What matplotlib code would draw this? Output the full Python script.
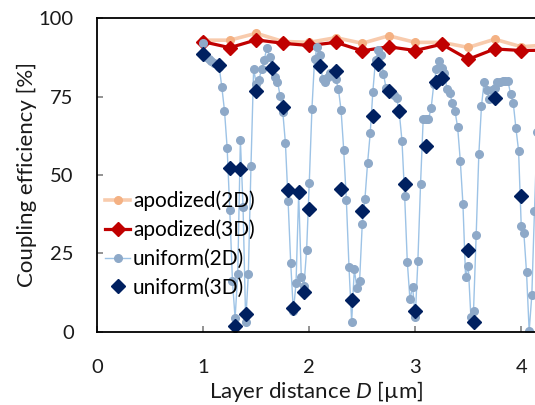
import numpy as np
import matplotlib
matplotlib.use('Agg')
from matplotlib import pyplot as plt

plt.rcParams['font.family'] = ['Lato', 'DejaVu Sans']
plt.rcParams['mathtext.fontset'] = 'custom'
plt.rcParams['mathtext.rm'] = 'Lato'
plt.rcParams['mathtext.it'] = 'Lato:italic'

# apodized gratings, 0.25 um step
apo_x = [1.0, 1.25, 1.5, 1.75, 2.0, 2.25, 2.5, 2.75, 3.0, 3.25, 3.5, 3.75, 4.0, 4.25]
apo_2d = [93.0, 93.0, 95.2, 92.6, 92.3, 93.8, 92.0, 94.4, 92.3, 92.3, 90.7, 93.3, 90.9, 91.5]
apo_3d = [92.5, 90.6, 93.1, 92.0, 91.3, 92.3, 89.6, 90.9, 89.7, 91.7, 86.9, 90.2, 89.7, 89.8]

# uniform grating, 2D simulation, 0.025 um step from 1.0
uni_2d = [
    92.2, 87.7, 87.0, 86.5, 85.8, 85.3, 84.5, 78.0, 70.5, 58.7,
    38.8, 16.3, 4.3, 18.4, 61.2, 39.9, 3.2, 18.3, 53.0, 83.8,
    79.0, 80.3, 83.8, 86.7, 90.6, 87.6, 84.0, 81.2, 79.8, 75.2,
    70.2, 60.1, 41.8, 21.8, 6.5, 15.4, 44.0, 17.4, 14.7, 26.1,
    47.5, 71.0, 86.9, 90.9, 88.3, 80.5, 79.8, 81.2, 82.4, 82.0,
    80.5, 77.4, 70.7, 58.0, 42.0, 20.5, 3.2, 19.9, 13.8, 16.3,
    34.4, 42.2, 53.7, 63.3, 76.6, 86.7, 89.9, 88.3, 82.2, 77.7,
    77.0, 76.3, 75.5, 74.5, 69.7, 60.8, 43.3, 22.3, 10.3, 14.4,
    4.6, 22.7, 47.1, 67.8, 68.0, 67.8, 71.3, 79.0, 83.7, 86.2,
    84.0, 82.5, 77.3, 76.1, 73.0, 70.4, 65.2, 54.6, 40.7, 17.4,
    21.1, 4.6, 6.7, 30.9, 56.6, 72.0, 79.8, 77.1, 74.2, 77.1,
    77.7, 79.5, 79.6, 80.0, 80.0, 80.0, 75.7, 72.9, 64.9, 57.8,
    33.8, 31.4, 19.0, 0.2, 11.7, 38.6, 63.6,
]
uni_2d_x = [1.0 + 0.025 * i for i in range(len(uni_2d))]

# uniform grating, 3D simulation
uni_3d_x = [1.0, 1.15, 1.25, 1.3, 1.35, 1.4, 1.5, 1.65, 1.75, 1.8, 1.85, 1.9, 1.95, 2.0,
            2.1, 2.25, 2.3, 2.4, 2.5, 2.6, 2.65, 2.75, 2.85, 2.9, 3.0, 3.1, 3.2, 3.25,
            3.5, 3.55, 3.75, 4.0]
uni_3d = [88.6, 85.0, 52.1, 1.8, 51.8, 5.6, 76.8, 84.2, 71.6, 45.2, 7.5, 44.7, 12.6, 39.2,
          84.6, 83.3, 45.4, 10.1, 38.6, 68.9, 85.4, 76.9, 70.4, 47.1, 6.6, 59.3, 79.6, 80.8,
          26.1, 3.0, 74.7, 43.3]

fig = plt.figure(figsize=(5.35, 4.05), dpi=100)
ax = fig.add_axes([0.1819, 0.181, 0.8181, 0.774])

ax.plot(apo_x, apo_2d, color='#F8CBAD', lw=2.6, marker='o', ms=5.5,
        mfc='#F4B183', mec='#F4B183', label='apodized(2D)')
ax.plot(apo_x, apo_3d, color='#C00000', lw=2.3, marker='D', ms=7,
        mfc='#C00000', mec='#C00000', label='apodized(3D)')
ax.plot(uni_2d_x, uni_2d, color='#9DC3E6', lw=1.0, marker='o', ms=5.5,
        mfc='#8EA9C8', mec='#8EA9C8', label='uniform(2D)')
ax.plot(uni_3d_x, uni_3d, ls='none', marker='D', ms=7,
        mfc='#002060', mec='#002060', label='uniform(3D)')

ax.set_xlim(0, 4.13)
ax.set_ylim(0, 100)
ax.set_xticks([0, 1, 2, 3, 4])
ax.set_yticks([0, 25, 50, 75, 100])
ax.tick_params(direction='in', length=4, width=1.2, color='#808080',
               labelsize=14.5, pad=17, labelcolor='#1a1a1a')
ax.tick_params(axis='x', pad=20)
ax.spines['right'].set_visible(False)
for s in ['left', 'bottom', 'top']:
    ax.spines[s].set_linewidth(1.3)
    ax.spines[s].set_color('black')

ax.set_xlabel('Layer distance $D$ [µm]', fontsize=16, labelpad=2, color='#1a1a1a')
ax.set_ylabel('Coupling efficiency [%]', fontsize=16, labelpad=1, color='#1a1a1a')

fig.legend(loc='center left', bbox_to_anchor=(105 / 535, 1 - 244 / 405),
           frameon=False, fontsize=15, handlelength=1.2, handletextpad=0.15,
           labelspacing=0.42, borderpad=0, borderaxespad=0)

fig.savefig('out.png', dpi=100)
